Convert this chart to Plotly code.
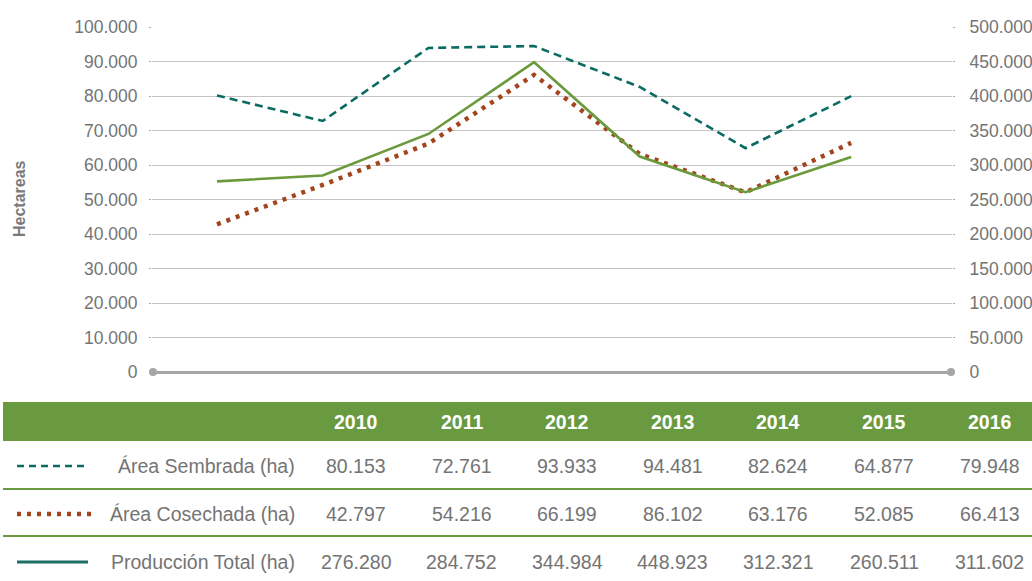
import plotly.graph_objects as go

years = ["2010", "2011", "2012", "2013", "2014", "2015", "2016"]
area_sembrada = [80153, 72761, 93933, 94481, 82624, 64877, 79948]
area_cosechada = [42797, 54216, 66199, 86102, 63176, 52085, 66413]
produccion_total = [276280, 284752, 344984, 448923, 312321, 260511, 311602]
series_names = ["Área Sembrada (ha)", "Área Cosechada (ha)", "Producción Total (ha)"]
left_ticks = [0, 10000, 20000, 30000, 40000, 50000, 60000, 70000, 80000, 90000, 100000]
right_ticks = [0, 50000, 100000, 150000, 200000, 250000, 300000, 350000, 400000, 450000, 500000]

W, H = 1032, 581
C_TEAL = "#0B6B63"
C_BROWN = "#A3441C"
C_GREEN = "#6A9A3C"
C_HEAD = "#6A9A40"
C_TEXT = "#747474"
C_GRID = "#C4C4C4"
FONT = "Liberation Sans, Arial, sans-serif"


def px(x):
    return x / W


def py(y):
    return 1 - y / H


def fmt(v):
    return f"{v:,}".replace(",", ".")


idx = list(range(len(years)))

fig = go.Figure()
fig.add_trace(go.Scatter(x=idx, y=area_sembrada, mode="lines", name=series_names[0],
                         line=dict(color=C_TEAL, width=2.6, dash="8px,5px")))
fig.add_trace(go.Scatter(x=idx, y=area_cosechada, mode="lines", name=series_names[1],
                         line=dict(color=C_BROWN, width=4.5, dash="4px,6px")))
fig.add_trace(go.Scatter(x=idx, y=produccion_total, mode="lines", name=series_names[2],
                         yaxis="y2", line=dict(color=C_GREEN, width=2.6)))

x0, x1 = 152, 952
y_top, y_zero = 27, 372

fig.update_layout(
    width=W, height=H,
    margin=dict(l=0, r=0, t=0, b=0, autoexpand=False),
    paper_bgcolor="white", plot_bgcolor="white",
    showlegend=False,
    separators=",.",
    font=dict(family=FONT, color=C_TEXT),
    xaxis=dict(domain=[px(x0), px(x1)], range=[-0.615, 6.954], showgrid=False,
               zeroline=False, showticklabels=False, ticks="", showline=False, automargin=False),
    yaxis=dict(domain=[py(y_zero), py(y_top)], range=[0, 100000], tickvals=left_ticks,
               ticktext=[fmt(v) for v in left_ticks],
               showgrid=True, gridcolor=C_GRID, gridwidth=1.3,
               zeroline=True, zerolinecolor="#A6A6A6", zerolinewidth=2.5,
               ticks="outside", ticklen=2, tickcolor="#A6A6A6",
               ticklabelstandoff=8, automargin=False,
               tickfont=dict(size=17.5, color=C_TEXT, family=FONT), showline=False),
    yaxis2=dict(overlaying="y", side="right", range=[0, 500000], tickvals=right_ticks,
                ticktext=[fmt(v) for v in right_ticks],
                showgrid=False, zeroline=False,
                ticks="outside", ticklen=2, tickcolor="#A6A6A6",
                ticklabelstandoff=11, automargin=False,
                tickfont=dict(size=17.5, color=C_TEXT, family=FONT), showline=False),
)

shapes = []
annotations = []

# zero-line end circles
for cx in (x0 + 1, x1 - 1):
    shapes.append(dict(type="circle", xref="paper", yref="paper",
                       x0=px(cx - 4), x1=px(cx + 4), y0=py(y_zero + 4), y1=py(y_zero - 4),
                       fillcolor="#A6A6A6", line=dict(width=0)))

# axis title
annotations.append(dict(text="<b>Hectareas</b>", x=px(19), y=py(199), xref="paper", yref="paper",
                        xanchor="center", yanchor="middle",
                        textangle=-90, showarrow=False, font=dict(size=16, color="#7A7A7A", family=FONT)))

# table
col0, colstep = 356, 105.6
head_top, head_bot = 402, 441
row_y = [466, 514, 562]
sep_y = [489, 536]

shapes.append(dict(type="rect", xref="paper", yref="paper", x0=px(3), x1=px(W), y0=py(head_bot), y1=py(head_top),
                   fillcolor=C_HEAD, line=dict(width=0), layer="above"))
for sy in sep_y:
    shapes.append(dict(type="line", xref="paper", yref="paper", x0=px(3), x1=px(W), y0=py(sy), y1=py(sy),
                       line=dict(color=C_HEAD, width=2.2)))

for i, yr in enumerate(years):
    annotations.append(dict(text=f"<b>{yr}</b>", x=px(col0 + colstep * i), y=py(422), xref="paper", yref="paper",
                            showarrow=False, xanchor="center", yanchor="middle",
                            font=dict(size=19.5, color="white", family=FONT)))

legend_styles = [
    dict(color=C_TEAL, width=2.6, dash="7px,5px"),
    dict(color=C_BROWN, width=4.5, dash="4px,6px"),
    dict(color="#1E6E68", width=2.8),
]
legend_ends = [88, 93, 88]
series_values = [area_sembrada, area_cosechada, produccion_total]
for r, (name, vals) in enumerate(zip(series_names, series_values)):
    yy = row_y[r]
    shapes.append(dict(type="line", xref="paper", yref="paper", x0=px(17), x1=px(legend_ends[r]),
                       y0=py(yy), y1=py(yy), line=legend_styles[r]))
    annotations.append(dict(text=name, x=px(297), y=py(yy), xref="paper", yref="paper",
                            showarrow=False, xanchor="right", yanchor="middle",
                            font=dict(size=19.5, color=C_TEXT, family=FONT)))
    for i, v in enumerate(vals):
        annotations.append(dict(text=fmt(v), x=px(col0 + colstep * i), y=py(yy), xref="paper", yref="paper",
                                showarrow=False, xanchor="center", yanchor="middle",
                                font=dict(size=19.5, color=C_TEXT, family=FONT)))

fig.update_layout(shapes=shapes, annotations=annotations)
fig.write_html("out.html", config={"displayModeBar": False},
               post_script="document.body.style.margin='0';document.body.style.overflow='hidden';")
